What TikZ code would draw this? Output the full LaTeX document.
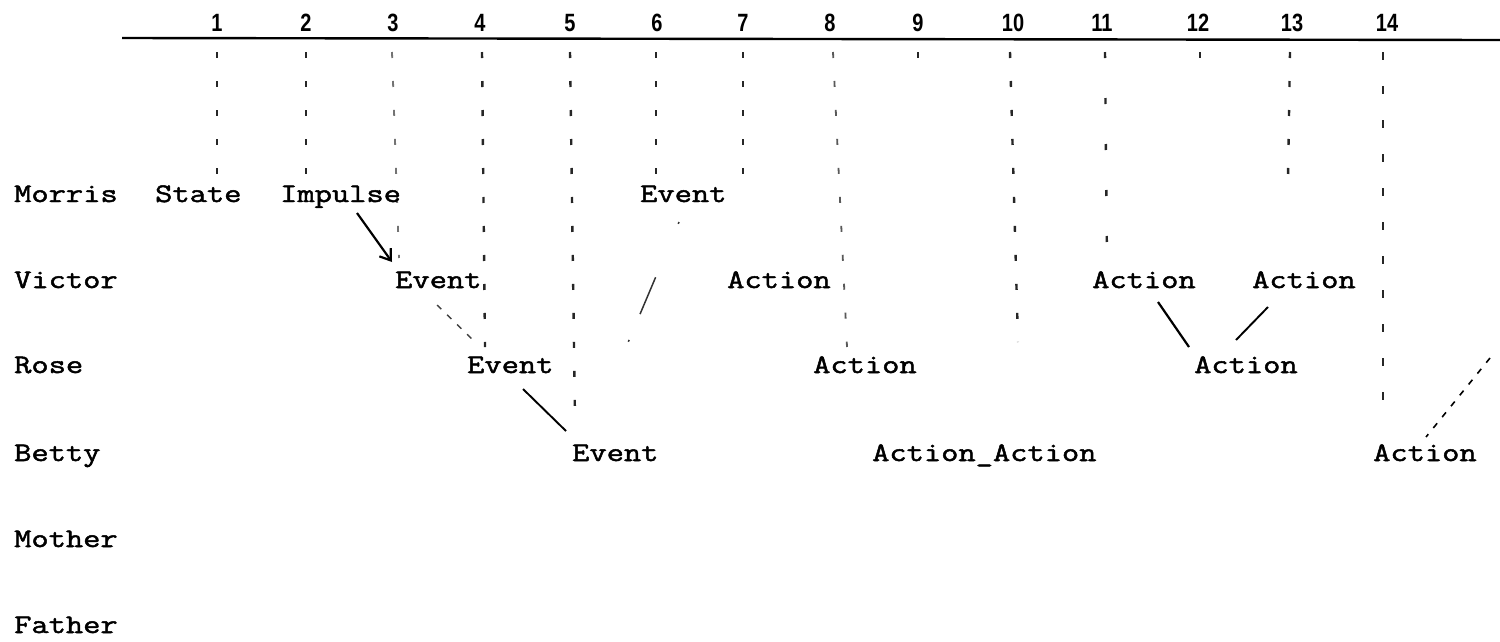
\documentclass[tikz,border=0pt]{standalone}
\usepackage{fontspec}
\newfontfamily\tw[FakeStretch=1.25,FakeBold=1.8]{Latin Modern Mono}
\newfontfamily\numf[FakeStretch=0.8]{Liberation Sans}
\usetikzlibrary{arrows.meta}
\tikzset{
  lbl/.style={anchor=base west,inner sep=0pt,font=\tw\fontsize{26.8}{28}\selectfont},
  num/.style={anchor=base,inner sep=0pt,font=\numf\bfseries\fontsize{25}{26}\selectfont},
  dots/.style={line width=2.4pt,dash pattern=on 6pt off 23pt,black!85},
  link/.style={line width=2.2pt},
  dlink/.style={line width=1.6pt,dash pattern=on 6pt off 8pt},
}
\begin{document}
\begin{tikzpicture}[x=1pt,y=-1pt]
\useasboundingbox (0,0) rectangle (1500,641);
% time axis
\draw[line width=2.4pt] (122,38) -- (1500,40);
\foreach \n/\x in {1/217,2/306,3/393,4/480,5/570,6/657,7/743,8/830,9/918,10/1013,11/1102,12/1198,13/1292,14/1387}
  \node[num] (n\n) at (\x,31) {\n};
% dotted column lines
\draw[dots] (217,52) -- (217,175);
\draw[dots] (306,52) -- (306,175);
\draw[dots,black!55,line width=1.8pt] (392,52) -- (399,258);
\draw[dots] (482,52) -- (485,347);
\draw[dots] (570,52) -- (575,420);
\draw[dots] (656,52) -- (656,182);
\draw[dots] (743,52) -- (743,182);
\draw[dots,black!65,line width=1.8pt] (833,52) -- (847,347);
\draw[dots] (918,52) -- (918,78);
\draw[dots] (1010,52) -- (1018,342);
\draw[dots,dash pattern=on 6pt off 40pt] (1105,52) -- (1107,262);
\draw[dots] (1200,52) -- (1200,58);
\draw[dots] (1290,52) -- (1288,178);
\draw[dots,dash pattern=on 8pt off 26pt] (1383,52) -- (1383,420);
% row labels
\node[lbl] (morris) at (14,202) {Morris};
\node[lbl] (victor) at (14,288) {Victor};
\node[lbl] (rose)   at (14,373) {Rose};
\node[lbl] (betty)  at (14,461) {Betty};
\node[lbl] (mother) at (14,547) {Mother};
\node[lbl] (father) at (14,633) {Father};
% Morris row
\node[lbl] (state) at (155,202) {State};
\node[lbl] (imp)   at (280,202) {Impulse};
\node[lbl] (mev)   at (640,202) {Event};
% Victor row
\node[lbl] (vev)  at (395,288) {Event};
\node[lbl] (vac1) at (727,288) {Action};
\node[lbl] (vac2) at (1092,288) {Action};
\node[lbl] (vac3) at (1252,288) {Action};
% Rose row
\node[lbl] (rev)  at (467,373) {Event};
\node[lbl] (rac1) at (813,373) {Action};
\node[lbl] (rac2) at (1194,373) {Action};
% Betty row
\node[lbl] (bev)  at (572,461) {Event};
\node[lbl] (bacc) at (872,461) {Action\_Action};
\node[lbl] (bac)  at (1373,461) {Action};
% connectors
\draw[link,-{Straight Barb[length=10pt,width=14pt,line width=2.2pt]}]
  ([shift={(77,11)}]imp.base west) -- ([shift={(-3,-26)}]vev.base west);
\draw[dlink,black!75,line width=1.4pt] ([shift={(42,17)}]vev.base west) -- ([shift={(6,-33)}]rev.base west);
\draw[link,line width=1.9pt] ([shift={(56,16)}]rev.base west) -- ([shift={(-6,-30)}]bev.base west);
\coordinate (mend) at (624,352);
\draw[line width=1.5pt,black!80,dash pattern=on 2pt off 58pt on 40pt off 28pt on 2pt off 12pt on 2pt off 40pt]
  ([shift={(39,20)}]mev.base west) -- (mend);
\draw[link] ([shift={(66,14)}]vac2.base west) -- ([shift={(-5,-26)}]rac2.base west);
\draw[link,line width=1.9pt] ([shift={(16,19)}]vac3.base west) -- ([shift={(42,-33)}]rac2.base west);
\coordinate (bstart) at (1490,358);
\draw[dlink] (bstart) -- ([shift={(53,-24)}]bac.base west);
\end{tikzpicture}
\end{document}
